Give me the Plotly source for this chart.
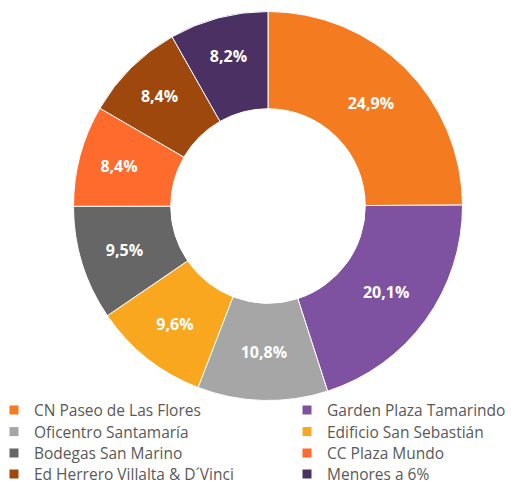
import plotly.graph_objects as go

# Slice data, clockwise from 12 o'clock
labels = [
    "CN Paseo de Las Flores",
    "Garden Plaza Tamarindo",
    "Oficentro Santamaría",
    "Edificio San Sebastián",
    "Bodegas San Marino",
    "CC Plaza Mundo",
    "Ed Herrero Villalta & D´Vinci",
    "Menores a 6%",
]
shares = [24.9, 20.1, 10.8, 9.6, 9.5, 8.4, 8.4, 8.2]
colours = [
    "#F47B20",
    "#7F52A1",
    "#A6A6A6",
    "#F8A71E",
    "#666666",
    "#FF6B2D",
    "#9E480E",
    "#4B3163",
]

W, H = 526, 485

fig = go.Figure()

fig.add_trace(
    go.Pie(
        labels=labels,
        values=shares,
        sort=False,
        direction="clockwise",
        rotation=0,
        hole=0.5,
        marker=dict(colors=colours, line=dict(color="white", width=1)),
        texttemplate="%{value:.1f}%",
        textposition="inside",
        insidetextorientation="horizontal",
        insidetextfont=dict(family="Open Sans", size=16, color="white", weight="bold"),
        domain=dict(x=[0.1397, 0.8793], y=[0.1742, 0.9763]),
        showlegend=False,
        hoverinfo="skip",
    )
)

# Legend: 2 columns x 4 rows, one small legend per entry so rows sit where
# the original has them
legend_font = dict(family="Open Sans", size=15.5, color="#595959")
col_x = [-6, 287]          # px, left edge of each legend column
row_top = [393.5, 415, 436.3, 457.5]  # px from top

legends = {}
for i, (name, colour) in enumerate(zip(labels, colours)):
    key = "legend" if i == 0 else f"legend{i + 1}"
    fig.add_trace(
        go.Scatter(
            x=[None],
            y=[None],
            mode="markers",
            name=name,
            marker=dict(symbol="square", size=9, color=colour),
            legend=key,
            hoverinfo="skip",
        )
    )
    legends[key] = dict(
        x=col_x[i % 2] / W,
        y=1 - row_top[i // 2] / H,
        xanchor="left",
        yanchor="top",
        orientation="v",
        font=legend_font,
        bgcolor="rgba(0,0,0,0)",
    )

fig.update_layout(
    width=W,
    height=H,
    margin=dict(l=0, r=0, t=0, b=0, autoexpand=False),
    paper_bgcolor="white",
    plot_bgcolor="rgba(0,0,0,0)",
    separators=",.",
    xaxis=dict(visible=False),
    yaxis=dict(visible=False),
    **legends,
)

fig.write_html(
    "out.html",
    config={"displayModeBar": False},
    post_script="document.body.style.margin='0';",
)
